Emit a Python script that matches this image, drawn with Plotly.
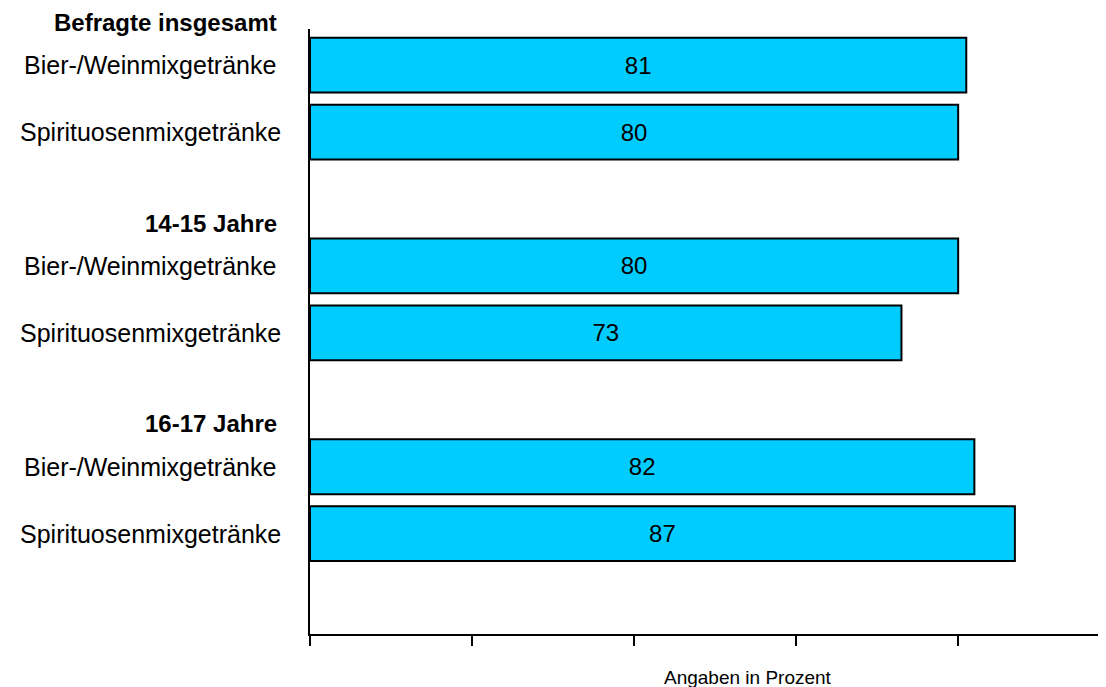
import plotly.graph_objects as go

# ---- data ----
groups = ["Befragte insgesamt", "14-15 Jahre", "16-17 Jahre"]
drinks = ["Bier-/Weinmixgetränke", "Spirituosenmixgetränke"]
values_bier = [81, 80, 82]
values_spirit = [80, 73, 87]
x_ticks = [0, 20, 40, 60, 80]
axis_title = "Angaben in Prozent"

FONT = "Arial, 'Liberation Sans', sans-serif"
BAR_COLOR = "#00CCFF"

# each group occupies 3 slots: two bars + one spacer
ys, xs, labels = [], [], []
for g in range(len(groups)):
    for r, vals in enumerate([values_bier, values_spirit]):
        ys.append(g * 3 + r)
        xs.append(vals[g])
        labels.append(drinks[r])

Y_RANGE = [len(groups) * 3 - 0.5, -0.54]

fig = go.Figure()
fig.add_trace(go.Bar(
    x=xs, y=ys, orientation="h", width=0.82,
    marker=dict(color=BAR_COLOR, line=dict(color="black", width=2)),
    text=[str(v) for v in xs], textposition="inside", insidetextanchor="middle",
    textangle=0,
    textfont=dict(family=FONT, size=24, color="black"),
    hoverinfo="skip", showlegend=False,
))

# page is rendered with an 8px body margin; compensate
OFF = 8
PAGE_W, PAGE_H = 1106, 687
W, H = PAGE_W - OFF, PAGE_H - OFF
PL, PR, PT, PB = 310, 1104, 29, 634  # plot area in page pixels
ML, MT = PL - OFF, PT - OFF
MR = W - (PR - OFF)
MB = H - (PB - OFF)
pw = PR - PL
ph = PB - PT

def px_to_paper_x(px):
    return (px - PL) / pw

def px_to_paper_y(py):
    return (PB - py) / ph

def data_to_paper_y(v):
    return (Y_RANGE[0] - v) / (Y_RANGE[0] - Y_RANGE[1])

annotations = []
for y, lab in zip(ys, labels):
    annotations.append(dict(
        x=px_to_paper_x(150), xref="paper", y=data_to_paper_y(y), yref="paper",
        text=lab, showarrow=False, xanchor="center", yanchor="middle",
        font=dict(family=FONT, size=25, color="black"),
    ))
for g, name in enumerate(groups):
    annotations.append(dict(
        x=px_to_paper_x(278), xref="paper", y=data_to_paper_y(g * 3 - 0.64), yref="paper",
        text="<b>" + name + "</b>", showarrow=False, xanchor="right", yanchor="middle",
        borderpad=0,
        font=dict(family=FONT, size=24, color="black"),
    ))
annotations.append(dict(
    x=px_to_paper_x(748), xref="paper", y=px_to_paper_y(677), yref="paper",
    text=axis_title, showarrow=False, xanchor="center", yanchor="middle",
    font=dict(family=FONT, size=19, color="black"),
))

fig.update_layout(
    width=W, height=H, autosize=False,
    margin=dict(l=ML, r=MR, t=MT, b=MB, pad=0),
    paper_bgcolor="white", plot_bgcolor="white",
    showlegend=False,
    annotations=annotations,
    xaxis=dict(
        range=[0, 98], tickvals=x_ticks, showticklabels=False,
        ticks="outside", ticklen=10, tickwidth=2, tickcolor="black",
        showline=True, linecolor="black", linewidth=2,
        showgrid=False, zeroline=False,
    ),
    yaxis=dict(
        range=Y_RANGE, showticklabels=False, ticks="",
        showline=True, linecolor="black", linewidth=2,
        showgrid=False, zeroline=False,
    ),
)

fig.write_html("out.html")
